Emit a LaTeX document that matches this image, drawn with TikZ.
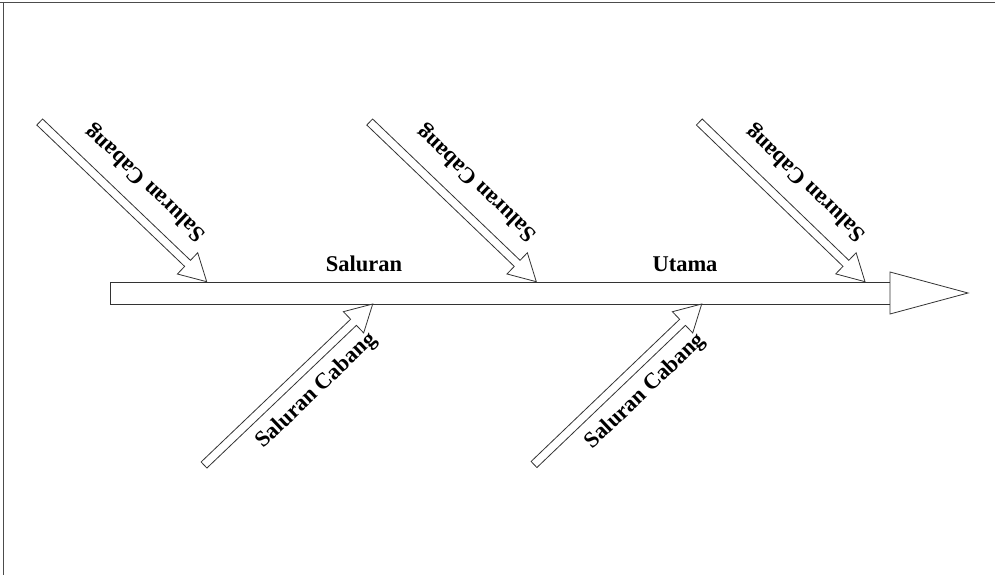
\documentclass[tikz,border=0pt]{standalone}
\usepackage{fontspec}
\setmainfont{Liberation Serif}
\usetikzlibrary{calc}

\tikzset{
  outline/.style={draw=black!80, line width=0.8pt, fill=white, line join=miter},
  frameline/.style={draw=black!70, line width=0.9pt},
  mainlabel/.style={font=\bfseries\fontsize{22.5}{27}\selectfont, inner sep=0pt, anchor=base},
  branchlabel/.style={font=\bfseries\fontsize{22.5}{27}\selectfont, inner sep=0pt},
}

% hollow block arrow from tail #1 to tip #2
\newcommand{\hollowarrow}[2]{%
  \coordinate (#1-base) at ($(#2)!26.5pt!(#1)$);
  \draw[outline]
    ($(#1)!4.2pt!90:(#2)$) --
    ($(#1-base)!4.2pt!90:(#2)$) --
    ($(#1-base)!14.7pt!90:(#2)$) --
    (#2) --
    ($(#1-base)!14.7pt!-90:(#2)$) --
    ($(#1-base)!4.2pt!-90:(#2)$) --
    ($(#1)!4.2pt!-90:(#2)$) -- cycle;
}

\begin{document}
\begin{tikzpicture}[x=1pt, y=-1pt]
  \useasboundingbox (0,0) rectangle (995,575);

  % frame lines (top and left)
  \draw[frameline] (0,2.8) -- (995,2.8);
  \draw[frameline] (3.4,2.8) -- (3.4,575);

  % main spine
  \coordinate (spineL) at (110,282.7);
  \coordinate (spineR) at (890,304);
  \coordinate (headTop) at (890,272);
  \coordinate (headTip) at (968,293);
  \coordinate (headBot) at (890,314);
  \draw[outline] (spineL) rectangle (spineR);
  \draw[outline] (headTop) -- (headTip) -- (headBot) -- cycle;

  % branch arrows above the spine
  \coordinate (u1t) at (39.7,122);  \coordinate (u1p) at (206.7,281.7);
  \coordinate (u2t) at (369.7,122); \coordinate (u2p) at (536.3,281.7);
  \coordinate (u3t) at (699.3,122); \coordinate (u3p) at (865,281.7);
  \hollowarrow{u1t}{u1p}
  \hollowarrow{u2t}{u2p}
  \hollowarrow{u3t}{u3p}

  % branch arrows below the spine
  \coordinate (l1t) at (204,465);   \coordinate (l1p) at (372.7,304);
  \coordinate (l2t) at (534,464.5); \coordinate (l2p) at (701.7,304);
  \hollowarrow{l1t}{l1p}
  \hollowarrow{l2t}{l2p}

  % spine labels
  \node[mainlabel] (lblSaluran) at (364,271) {Saluran};
  \node[mainlabel] (lblUtama) at (685,271) {Utama};

  % branch labels
  \node[branchlabel, rotate=136.3] (lblU1) at (145.8,182.8) {Saluran Cabang};
  \node[branchlabel, rotate=136.3] (lblU2) at (477.2,183) {Saluran Cabang};
  \node[branchlabel, rotate=136.3] (lblU3) at (806.2,183) {Saluran Cabang};
  \node[branchlabel, rotate=43.6] (lblL1) at (316.7,390.8) {Saluran Cabang};
  \node[branchlabel, rotate=43.6] (lblL2) at (645.5,391.5) {Saluran Cabang};
\end{tikzpicture}
\end{document}
